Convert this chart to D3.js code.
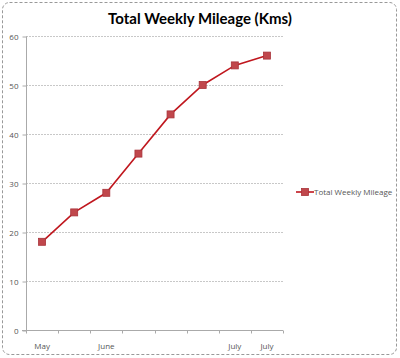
<!DOCTYPE html>
<html><head><meta charset="utf-8">
<script src="https://cdn.jsdelivr.net/npm/d3@7"></script>
<style>body{margin:0;background:#fff;}svg{display:block;}</style>
</head><body>
<script>
const categories = ["w1","w2","w3","w4","w5","w6","w7","w8"];
const tickLabels = ["May","","June","","","","July","July"];
const values = [18,24,28,36,44,50,54,56];
const yTicks = [0,10,20,30,40,50,60];
const seriesName = "Total Weekly Mileage";
const title = "Total Weekly Mileage (Kms)";

const W=400,H=358;
const svg=d3.select("body").append("svg").attr("width",W).attr("height",H);
svg.append("rect").attr("x",2.5).attr("y",2.5).attr("width",394).attr("height",352)
  .attr("rx",7).attr("fill","#fff").attr("stroke","#999").attr("stroke-dasharray","3,2");
svg.append("text").attr("x",200).attr("y",24).attr("text-anchor","middle")
  .attr("font-family","Lato, sans-serif").attr("font-weight","bold").attr("font-size",15)
  .attr("fill","#000").text(title);

const x=d3.scaleBand().domain(categories).range([26,283]);
const y=d3.scaleLinear().domain([0,60]).range([330,36]);
const g=svg.append("g");
// gridlines
g.selectAll("line.grid").data(yTicks.filter(d=>d>0)).join("line")
  .attr("x1",26).attr("x2",283).attr("y1",d=>y(d)+0.5).attr("y2",d=>y(d)+0.5)
  .attr("stroke","#c8c8c8").attr("stroke-dasharray","2,1");
// y axis
const ya=g.append("g").attr("transform","translate(26.5,0.5)")
  .call(d3.axisLeft(y).tickValues(yTicks).tickSize(4).tickPadding(4));
ya.select(".domain").attr("stroke","#aaa").attr("d","M0,"+y(60)+"V"+y(0));
ya.selectAll(".tick line").attr("stroke","#aaa");
ya.selectAll("text").attr("font-family","Open Sans, sans-serif").attr("font-size",8).attr("fill","#555");
// x axis
const xa=g.append("g").attr("transform","translate(0,"+(y(0)+0.5)+")");
xa.append("line").attr("x1",22).attr("x2",283).attr("stroke","#aaa");
const edges=categories.map(c=>x(c)).concat([x.range()[1]]);
xa.selectAll("line.t").data(edges).join("line").attr("x1",d=>Math.round(d)+0.5).attr("x2",d=>Math.round(d)+0.5)
  .attr("y1",0).attr("y2",3).attr("stroke","#aaa");
xa.selectAll("text").data(categories).join("text")
  .attr("x",d=>x(d)+x.bandwidth()/2).attr("y",18).attr("text-anchor","middle")
  .attr("font-family","Open Sans, sans-serif").attr("font-size",8).attr("fill","#555")
  .text((d,i)=>tickLabels[i]);
// line
const line=d3.line().x((d,i)=>x(categories[i])+x.bandwidth()/2).y(d=>y(d));
g.append("path").datum(values).attr("d",line).attr("fill","none").attr("stroke","#c0171e").attr("stroke-width",1.6);
g.selectAll("rect.m").data(values).join("rect")
  .attr("x",(d,i)=>x(categories[i])+x.bandwidth()/2-3.5).attr("y",d=>y(d)-3.5)
  .attr("width",7).attr("height",7).attr("fill","#c0474c").attr("stroke","#a8333a").attr("stroke-width",0.8);
// legend
const lg=svg.append("g").attr("transform","translate(296,192)");
lg.append("line").attr("x1",0).attr("x2",18).attr("y1",0).attr("y2",0).attr("stroke","#c0171e").attr("stroke-width",1.6);
lg.append("rect").attr("x",5.5).attr("y",-3.5).attr("width",7).attr("height",7).attr("fill","#c0474c").attr("stroke","#a8333a").attr("stroke-width",0.8);
lg.append("text").attr("x",18).attr("y",3).attr("font-family","Open Sans, sans-serif").attr("font-size",8).attr("fill","#555").text(seriesName);
</script>
</body></html>
